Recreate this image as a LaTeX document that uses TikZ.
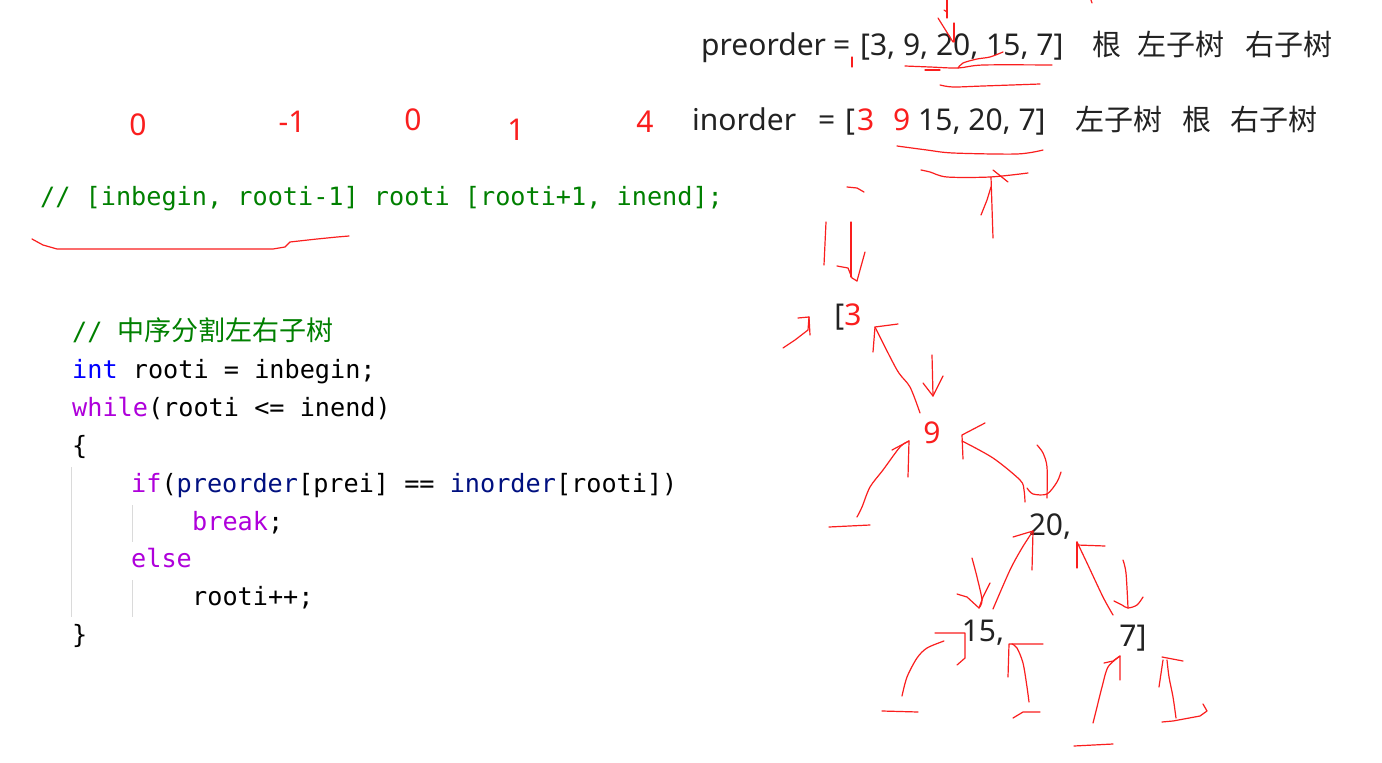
\documentclass[tikz,border=0pt]{standalone}
\usepackage{fontspec}
\setmainfont{Noto Sans}
\setmonofont{DejaVu Sans Mono}
\newfontfamily\cjkfont{Noto Sans CJK SC}
\usetikzlibrary{positioning}
\definecolor{inkred}{RGB}{250, 30, 30}
\definecolor{textdark}{RGB}{34, 34, 34}
\definecolor{codegreen}{RGB}{0, 128, 0}
\definecolor{codeblue}{RGB}{0, 0, 255}
\definecolor{codepurple}{RGB}{175, 0, 219}
\definecolor{codenavy}{RGB}{0, 16, 128}
\definecolor{guidegray}{RGB}{218, 218, 218}
\newcommand{\kwpurple}[1]{\textcolor{codepurple}{#1}}
\newcommand{\kwnavy}[1]{\textcolor{codenavy}{#1}}

\begin{document}
\begin{tikzpicture}[
    x=1pt, y=-1pt,
    txt/.style={inner sep=0pt, anchor=base west, text=textdark, font=\fontsize{30}{36}\selectfont},
    cjk/.style={inner sep=0pt, anchor=base west, text=textdark, font=\fontsize{29}{36}\selectfont\cjkfont},
    rednum/.style={inner sep=0pt, anchor=base, text=inkred, font=\fontsize{30}{36}\selectfont},
    code/.style={inner sep=0pt, anchor=base west, text=black, font=\fontsize{25.2}{30}\selectfont\ttfamily},
    treenode/.style={inner sep=0pt, text=textdark, font=\fontsize{30}{36}\selectfont},
    ink/.style={draw=inkred, line width=1.2pt, line cap=round, line join=round},
    guide/.style={draw=guidegray, line width=1.5pt}
]
    \useasboundingbox[fill=white] (0,0) rectangle (1382,763);

    % Top: preorder / inorder arrays
    \node[txt] (pre) at (701,55) {preorder};
    \node[txt] (preeq) at (833,55) {=};
    \node[txt] (prelist) at (860,55) {[3, 9, 20, 15, 7]};
    \node[cjk] (preroot) at (1092,55) {根};
    \node[cjk] (preleft) at (1137,55) {左子树};
    \node[cjk] (preright) at (1245,55) {右子树};

    \node[txt] (in) at (692,130) {inorder};
    \node[txt] (ineq) at (818,130) {=};
    \node[txt] (inopen) at (845,130) {[};
    \node[txt, text=inkred] (inthree) at (857,130) {3};
    \node[txt, text=inkred] (innine) at (893,130) {9};
    \node[txt] (inrest) at (918,130) {15, 20, 7]};
    \node[cjk] (inleft) at (1075,130) {左子树};
    \node[cjk] (inroot) at (1182,130) {根};
    \node[cjk] (inright) at (1230,130) {右子树};

    % Red index numbers
    \node[rednum] (idxa) at (138,135) {0};
    \node[rednum] (idxb) at (292,132) {-1};
    \node[rednum] (idxc) at (413,130) {0};
    \node[rednum] (idxd) at (516,140) {1};
    \node[rednum] (idxe) at (645,132) {4};

    % Range comment
    \node[code, text=codegreen] (range) at (40,205) {// [inbegin, rooti-1] rooti [rooti+1, inend];};

    % Code block
    \node[code, text=codegreen] (cmt) at (72,340) {// {\cjkfont\fontsize{27}{30}\selectfont 中序分割左右子树}};
    \node[code] (lnint) at (72,378) {\textcolor{codeblue}{int} rooti = inbegin;};
    \node[code] (lnwhile) at (72,416) {\kwpurple{while}(rooti <= inend)};
    \node[code] (lnopen) at (72,454) {\{};
    \node[code] (lnif) at (131,492) {\kwpurple{if}(\kwnavy{preorder}[prei] == \kwnavy{inorder}[rooti])};
    \node[code] (lnbreak) at (192,530) {\kwpurple{break};};
    \node[code] (lnelse) at (131,567) {\kwpurple{else}};
    \node[code] (lninc) at (192,605) {rooti++;};
    \node[code] (lnclose) at (72,643) {\}};

    \draw[guide] (71.5,467) -- (71.5,617);
    \draw[guide] (132.5,505) -- (132.5,542);
    \draw[guide] (132.5,580) -- (132.5,617);

    % Tree
    \node[treenode] (tthree) at (848,317) {[\textcolor{inkred}{3}};
    \node[treenode, text=inkred] (tnine) at (932,433) {9};
    \node[treenode] (ttwenty) at (1050,527) {20,};
    \node[treenode] (tfifteen) at (983,633) {15,};
    \node[treenode] (tseven) at (1133,638) {7]};

    % --- Red hand strokes ---
    % top arrow and underlines
    \draw[ink] (947,0) -- (947,18);
    \draw[ink] (944,10) -- (947,12);
    \draw[ink] (938,18) -- (953,42);
    \draw[ink] (954,23) -- (954,42);
    \draw[ink] (1091,0) -- (1092,3);
    \draw[ink] (852,57) -- (852,67);
    \draw[ink] plot[smooth, tension=0.5] coordinates {(905,66) (930,67) (958,68) (983,65) (1052,65)};
    \draw[ink] (925,70) -- (940,70);
    \draw[ink] plot[smooth, tension=0.5] coordinates {(958,68) (963,63) (977,59) (990,57) (1003,52)};
    \draw[ink] plot[smooth, tension=0.5] coordinates {(940,85) (953,87) (983,86) (1040,84)};
    \draw[ink] plot[smooth, tension=0.5] coordinates {(897,146) (927,150) (953,153) (1017,154) (1043,150)};
    \draw[ink] plot[smooth, tension=0.5] coordinates {(921,170) (930,172) (947,177) (990,177) (1028,173)};
    \draw[ink] (993,170) -- (1008,182);
    \draw[ink] (991,177) -- (993,238);
    \draw[ink] (981,215) -- (987,200) -- (991,187);
    \draw[ink] (847,187) -- (857,188) -- (864,192);

    % range underline
    \draw[ink] (32,239) -- (43,245) -- (57,249) -- (273,249) -- (285,247) -- (290,242) -- (317,239) -- (337,237) -- (349,236);

    % arrows around [3
    \draw[ink] (826,222) -- (824,265);
    \draw[ink] (851,222) -- (851,277);
    \draw[ink] (837,266) -- (848,268) -- (852,278) -- (857,281);
    \draw[ink] (865,252) -- (860,270) -- (857,281);
    \draw[ink] (783,348) -- (795,340) -- (808,330) -- (809,317);
    \draw[ink] (798,318) -- (809,317) -- (810,335);
    \draw[ink] plot[smooth, tension=0.5] coordinates {(920,413) (910,387) (897,370) (875,327)};
    \draw[ink] (898,324) -- (875,327) -- (873,352);

    % arrows around 9
    \draw[ink] (932,355) -- (933,396);
    \draw[ink] (923,383) -- (933,396) -- (943,376);
    \draw[ink] plot[smooth, tension=0.5] coordinates {(857,517) (862,507) (870,487) (883,470) (900,447) (909,441)};
    \draw[ink] (892,450) -- (909,441) -- (908,477);
    \draw[ink] (829,527) -- (870,525);
    \draw[ink] plot[smooth, tension=0.5] coordinates {(962,441) (993,458) (1020,480) (1024,490) (1025,502)};
    \draw[ink] (985,423) -- (962,435) -- (963,459);

    % arrows around 20,
    \draw[ink] plot[smooth, tension=0.5] coordinates {(1037,445) (1043,453) (1047,467) (1047,498)};
    \draw[ink] plot[smooth, tension=0.5] coordinates {(1027,488) (1033,494) (1047,494) (1057,482) (1061,472)};
    \draw[ink] plot[smooth, tension=0.5] coordinates {(993,609) (1010,570) (1022,548) (1033,531)};
    \draw[ink] (1013,537) -- (1033,531) -- (1032,570);
    \draw[ink] plot[smooth, tension=0.5] coordinates {(1113,615) (1103,597) (1087,563) (1077,542)};
    \draw[ink] (1105,546) -- (1077,545);
    \draw[ink] (1077,542) -- (1077,568);

    % arrows around 15,
    \draw[ink] plot[smooth, tension=0.5] coordinates {(972,558) (977,577) (982,600) (979,608)};
    \draw[ink] (957,594) -- (967,597) -- (979,608);
    \draw[ink] (990,583) -- (983,597) -- (979,608);
    \draw[ink] plot[smooth, tension=0.5] coordinates {(902,696) (907,677) (917,658) (927,648) (944,641)};
    \draw[ink] (935,633) -- (965,633) -- (965,658) -- (957,665);
    \draw[ink] (882,711) -- (918,712);
    \draw[ink] plot[smooth, tension=0.5] coordinates {(1029,702) (1027,687) (1023,663) (1017,648) (1012,644)};
    \draw[ink] (1043,644) -- (1009,644) -- (1008,677);
    \draw[ink] (1013,718) -- (1023,712) -- (1040,712);

    % arrows around 7]
    \draw[ink] plot[smooth, tension=0.5] coordinates {(1123,560) (1126,573) (1128,608)};
    \draw[ink] plot[smooth, tension=0.5] coordinates {(1114,601) (1122,605) (1128,608) (1137,605) (1143,597)};
    \draw[ink] plot[smooth, tension=0.5] coordinates {(1093,723) (1097,707) (1102,687) (1108,667) (1120,656)};
    \draw[ink] (1104,663) -- (1113,661) -- (1120,656) -- (1120,680);
    \draw[ink] (1074,746) -- (1113,744);
    \draw[ink] plot[smooth, tension=0.5] coordinates {(1176,718) (1173,697) (1169,677) (1167,660)};
    \draw[ink] (1162,657) -- (1183,661);
    \draw[ink] (1163,660) -- (1159,687);
    \draw[ink] (1162,722) -- (1173,721) -- (1200,716) -- (1207,711) -- (1203,704);

\end{tikzpicture}
\end{document}
